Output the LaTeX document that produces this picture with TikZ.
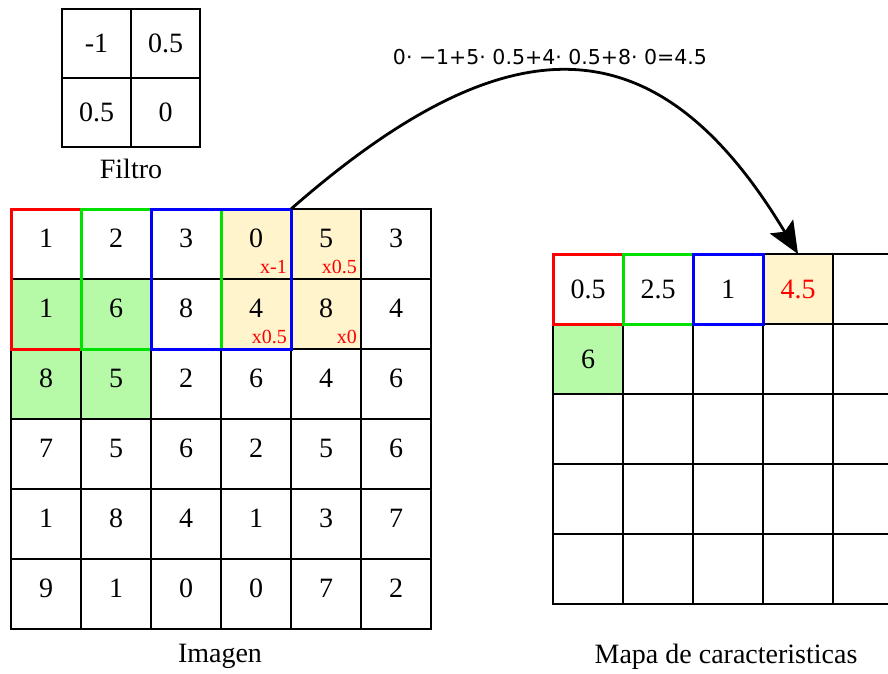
\documentclass[tikz,border=0pt]{standalone}
\usepackage{fontspec}
\setmainfont{Liberation Serif}
\newfontfamily\eqfont{DejaVu Sans}
\usetikzlibrary{arrows.meta,fit,backgrounds}
\definecolor{hiyel}{RGB}{255,244,204}
\definecolor{higrn}{RGB}{182,250,168}
\definecolor{wingrn}{RGB}{0,225,0}

\begin{document}
\begin{tikzpicture}[x=1pt, y=-1pt, every node/.style={font=\fontsize{28}{32}\selectfont},
  cell/.style={draw, line width=2.4pt, minimum width=70pt, minimum height=70pt, inner sep=0pt, outer sep=0pt},
  imgcell/.style={cell, text height=19pt, text depth=13pt},
  fcell/.style={cell, minimum width=69pt, minimum height=69pt},
  win/.style={draw, line width=3pt, inner sep=0pt, outer sep=0pt},
  mul/.style={text=red, font=\fontsize{20}{22}\selectfont, inner sep=0pt, anchor=base east},
  lbl/.style={inner sep=0pt, anchor=base},
  a/.style={-{Stealth[length=32pt, width=27pt, inset=6pt]}, line width=2.8pt}]
\useasboundingbox (0,0) rectangle (888,673);
\clip (0,0) rectangle (888,673);

% filter
\foreach \row [count=\r from 0] in {{-1,0.5},{0.5,0}}
  \foreach \v [count=\c from 0] in \row
    \node[fcell] (flt-\c-\r) at (96.5+69*\c, 43.5+69*\r) {\v};
\node[lbl] (flbl) at (131,178) {Filtro};

% input image
\foreach \row [count=\r from 0] in {{1,2,3,0,5,3},{1,6,8,4,8,4},{8,5,2,6,4,6},{7,5,6,2,5,6},{1,8,4,1,3,7},{9,1,0,0,7,2}}
  \foreach \v [count=\c from 0] in \row
    \node[imgcell] (img-\c-\r) at (46+70*\c, 244+70*\r) {\v};
\node[lbl] (ilbl) at (220,662) {Imagen};

\node[mul] (m-3-0) at ([xshift=-4pt, yshift=6pt]img-3-0.south east) {x-1};
\node[mul] (m-4-0) at ([xshift=-4pt, yshift=6pt]img-4-0.south east) {x0.5};
\node[mul] (m-3-1) at ([xshift=-4pt, yshift=6pt]img-3-1.south east) {x0.5};
\node[mul] (m-4-1) at ([xshift=-4pt, yshift=6pt]img-4-1.south east) {x0};

% feature map
\foreach \row [count=\r from 0] in {{0.5,2.5,1,\textcolor{red}{4.5},{}},{6,{},{},{},{}},{{},{},{},{},{}},{{},{},{},{},{}},{{},{},{},{},{}}}
  \foreach \v [count=\c from 0] in \row
    \node[cell] (map-\c-\r) at (588+70*\c, 289+70*\r) {\v};
\node[lbl] (mlbl) at (726,663) {Mapa de caracteristicas};

% highlighted cells
\begin{scope}[on background layer]
\fill[hiyel] (img-3-0.north west) rectangle (img-4-1.south east);
\fill[higrn] (img-0-1.north west) rectangle (img-1-2.south east);
\fill[hiyel] (map-3-0.north west) rectangle (map-3-0.south east);
\fill[higrn] (map-0-1.north west) rectangle (map-0-1.south east);
\end{scope}

% sliding windows
\node[win, draw=red, fit=(img-0-0)(img-1-1)] (winr) {};
\node[win, draw=wingrn, fit=(img-1-0)(img-2-1)] (wing) {};
\node[win, draw=blue, fit=(img-2-0)(img-3-1)] (winb) {};
\node[win, draw=red, fit=(map-0-0)] (outr) {};
\node[win, draw=wingrn, fit=(map-1-0)] (outg) {};
\node[win, draw=blue, fit=(map-2-0)] (outb) {};

\node[lbl, font=\eqfont\fontsize{20.5}{24}\selectfont] (eq) at (550,64) {0· −1+5· 0.5+4· 0.5+8· 0=4.5};
\draw[a] (winb.north east) .. controls (508,19) and (657,19) .. (map-3-0.north);
\end{tikzpicture}
\end{document}
